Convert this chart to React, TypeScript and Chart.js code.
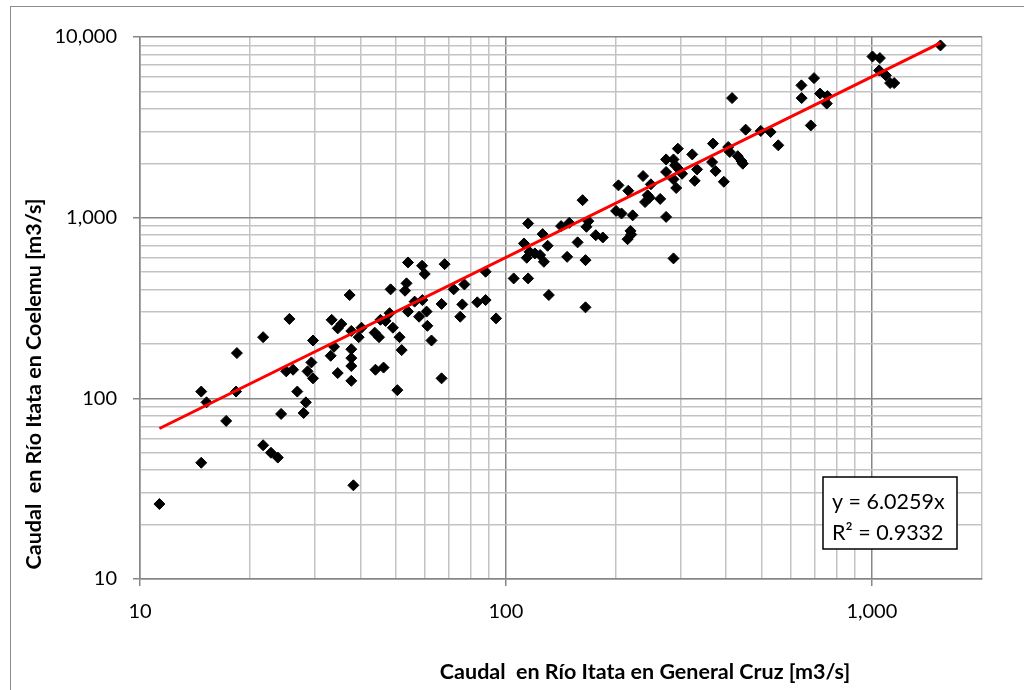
import React, { useEffect, useRef } from "react";
import { Chart, registerables } from "chart.js";

Chart.register(...registerables);

// Caudal en Río Itata en General Cruz [m3/s]
const flowGeneralCruz: number[] = [
  21.7, 18.4, 14.7, 15.2, 18.3, 17.2, 25.1, 26.2, 28.7, 26.9, 28.4, 24.3, 28.0, 21.7, 22.8, 23.8, 14.7, 11.3,
  54, 59, 68, 60, 53.5, 53, 48.4, 37.4, 66.7, 25.6, 33.4, 35.5, 34.7, 37.8, 40.3, 39.6, 45.4, 46.9, 48.1, 43.8,
  45, 49.1, 51.2, 51.9, 54, 56.3, 57.9, 59.1, 60.7, 61, 62.6, 29.7, 29.4, 29.7, 33.9, 33.2, 37.8, 37.8, 37.8,
  34.7, 37.8, 44, 46.3, 50.5, 66.7, 38.3,
  162, 115, 141.5, 149, 166, 126, 112, 130, 157, 116, 120, 124, 114, 127, 147, 165, 88, 105, 115, 72, 77, 76,
  83.5, 88, 75, 94, 131, 165,
  295, 323, 274, 287, 290, 274, 297, 303, 333, 328, 287, 292, 237, 249, 203, 216, 244, 247, 240, 264, 200, 207,
  222, 274, 168, 176, 184, 219, 220, 215, 287,
  642, 643, 415, 681, 452, 497, 529, 555, 368, 405, 409, 430, 440, 444, 366, 374, 394,
  1540, 1004, 1052, 1047, 1092, 1122, 1151, 695, 722, 756, 753,
];

// Caudal en Río Itata en Coelemu [m3/s]
const flowCoelemu: number[] = [
  218, 178, 109, 95, 109, 75, 141, 144, 141, 109, 95, 82, 83, 55, 50, 47, 44, 26,
  565, 542, 553, 488, 433, 394, 401, 373, 333, 275, 272, 258, 244, 236, 246, 218, 272, 268, 296, 231,
  218, 246, 218, 185, 302, 343, 283, 350, 302, 252, 209, 209, 158, 129, 193, 172, 187, 167, 151,
  138, 125, 144, 148, 111, 129, 33,
  1250, 929, 898, 936, 890, 811, 720, 699, 730, 647, 634, 621, 600, 570, 607, 582, 502, 461, 461, 401, 427, 331,
  340, 350, 283, 277, 373, 319,
  2410, 2240, 2100, 2100, 1950, 1790, 1850, 1750, 1850, 1600, 1630, 1460, 1700, 1530, 1510, 1410, 1330, 1290, 1220, 1270, 1090, 1055,
  1030, 1010, 956, 800, 777, 845, 807, 760, 595,
  5400, 4590, 4590, 3240, 3070, 3020, 2980, 2515, 2570, 2460, 2310, 2190, 2060, 1990, 2030, 1810, 1580,
  8980, 7800, 7640, 6530, 6130, 5560, 5560, 5920, 4860, 4710, 4280,
];

// Linear trendline through origin (from the chart's equation label)
const TREND_SLOPE = 6.0259;
const TREND_R2 = 0.9332;
const trendRangeX: number[] = [11.3, 1540];

const xAxisRange: number[] = [10, 2000];
const yAxisRange: number[] = [10, 10000];

const xTitle = "Caudal  en Río Itata en General Cruz [m3/s]";
const yTitle = "Caudal  en Río Itata en Coelemu [m3/s]";
const equationLines: string[] = [`y = ${TREND_SLOPE.toFixed(4)}x`, `R² = ${TREND_R2.toFixed(4)}`];

const FONT = "Lato, 'Open Sans', sans-serif";
const MAJOR = "#878787";
const MINOR = "#c3c3c3";

const isDecade = (v: number) => Math.abs(Math.log10(v) - Math.round(Math.log10(v))) < 1e-9;

const logTicks = (min: number, max: number) => {
  const out: { value: number }[] = [];
  for (let d = Math.pow(10, Math.floor(Math.log10(min))); d <= max * 1.0001; d *= 10) {
    for (let m = 1; m < 10; m++) {
      const v = Math.round(m * d * 1e6) / 1e6;
      if (v >= min * 0.9999 && v <= max * 1.0001) out.push({ value: v });
    }
  }
  return out;
};

const fmt = (v: number) => Math.round(v).toLocaleString("en-US");

const decorPlugin = {
  id: "decor",
  beforeDraw(chart: any) {
    const ctx = chart.ctx;
    ctx.save();
    ctx.fillStyle = "#ffffff";
    ctx.fillRect(0, 0, chart.width, chart.height);
    ctx.strokeStyle = "#8c8c8c";
    ctx.lineWidth = 1;
    ctx.strokeRect(10.5, 6.5, chart.width + 20, chart.height + 20);
    ctx.restore();
  },
  afterDraw(chart: any) {
    const ctx = chart.ctx;
    ctx.save();
    ctx.fillStyle = "#000";
    ctx.font = `bold 21.5px ${FONT}`;
    ctx.textAlign = "center";
    ctx.textBaseline = "middle";
    ctx.fillText(xTitle, 645, 672);
    ctx.translate(34, 384);
    ctx.rotate(-Math.PI / 2);
    ctx.fillText(yTitle, 0, 0);
    ctx.restore();

    // equation box
    ctx.save();
    ctx.fillStyle = "#fff";
    ctx.fillRect(823, 477, 134, 72);
    ctx.strokeStyle = "#000";
    ctx.lineWidth = 1.5;
    ctx.strokeRect(823, 477, 134, 72);
    ctx.fillStyle = "#000";
    ctx.font = `21.5px ${FONT}`;
    ctx.textAlign = "left";
    ctx.textBaseline = "middle";
    ctx.fillText(equationLines[0], 832, 502);
    ctx.fillText(equationLines[1], 832, 533);
    ctx.restore();
  },
};

export default function App() {
  const canvasRef = useRef<HTMLCanvasElement | null>(null);

  useEffect(() => {
    const canvas = canvasRef.current;
    if (!canvas) return;
    const points = flowGeneralCruz.map((x, i) => ({ x, y: flowCoelemu[i] }));
    const trend = trendRangeX.map((x) => ({ x, y: TREND_SLOPE * x }));

    const gridColor = (c: any) => (c.tick && isDecade(c.tick.value) ? MAJOR : MINOR);
    const tickColor = (c: any) => (c.tick && isDecade(c.tick.value) ? MAJOR : "rgba(0,0,0,0)");

    const chart = new Chart(canvas, {
      type: "scatter",
      data: {
        datasets: [
          {
            type: "line",
            label: "Tendencia",
            data: trend,
            borderColor: "#ff0000",
            borderWidth: 3,
            pointRadius: 0,
            fill: false,
            order: 0,
          } as any,
          {
            label: "Datos",
            data: points,
            pointStyle: "rectRot",
            pointRadius: 5.5,
            pointBackgroundColor: "#000",
            pointBorderColor: "#000",
            pointBorderWidth: 1,
            order: 1,
          },
        ],
      },
      options: {
        responsive: false,
        animation: false,
        devicePixelRatio: 1,
        layout: { padding: { left: 0, top: 37, right: 42, bottom: 0 } },
        plugins: {
          legend: { display: false },
          tooltip: { enabled: false },
          title: { display: false },
        },
        scales: {
          x: {
            type: "logarithmic",
            min: xAxisRange[0],
            max: xAxisRange[1],
            afterBuildTicks: (s: any) => {
              s.ticks = logTicks(xAxisRange[0], xAxisRange[1]);
            },
            afterFit: (s: any) => {
              s.height = 111;
            },
            ticks: {
              autoSkip: false,
              maxRotation: 0,
              padding: 14,
              color: "#000",
              font: { family: FONT, size: 20 },
              callback: (v: any) => (isDecade(Number(v)) ? fmt(Number(v)) : ""),
            },
            grid: { color: gridColor, tickColor, lineWidth: 1.5, tickLength: 7 },
            border: { display: true, color: MAJOR, width: 1.5 },
          },
          y: {
            type: "logarithmic",
            min: yAxisRange[0],
            max: yAxisRange[1],
            afterBuildTicks: (s: any) => {
              s.ticks = logTicks(yAxisRange[0], yAxisRange[1]);
            },
            afterFit: (s: any) => {
              s.width = 140;
            },
            ticks: {
              autoSkip: false,
              padding: 16,
              color: "#000",
              font: { family: FONT, size: 20 },
              callback: (v: any) => (isDecade(Number(v)) ? fmt(Number(v)) : ""),
            },
            grid: { color: gridColor, tickColor, lineWidth: 1.5, tickLength: 7 },
            border: { display: true, color: MAJOR, width: 1.5 },
          },
        },
      },
      plugins: [decorPlugin],
    } as any);

    return () => chart.destroy();
  }, []);

  return (
    <div style={{ position: "absolute", left: 0, top: 0, width: 1024, height: 690, background: "#fff" }}>
      <canvas ref={canvasRef} width={1024} height={690} style={{ display: "block", width: 1024, height: 690 }} />
    </div>
  );
}
